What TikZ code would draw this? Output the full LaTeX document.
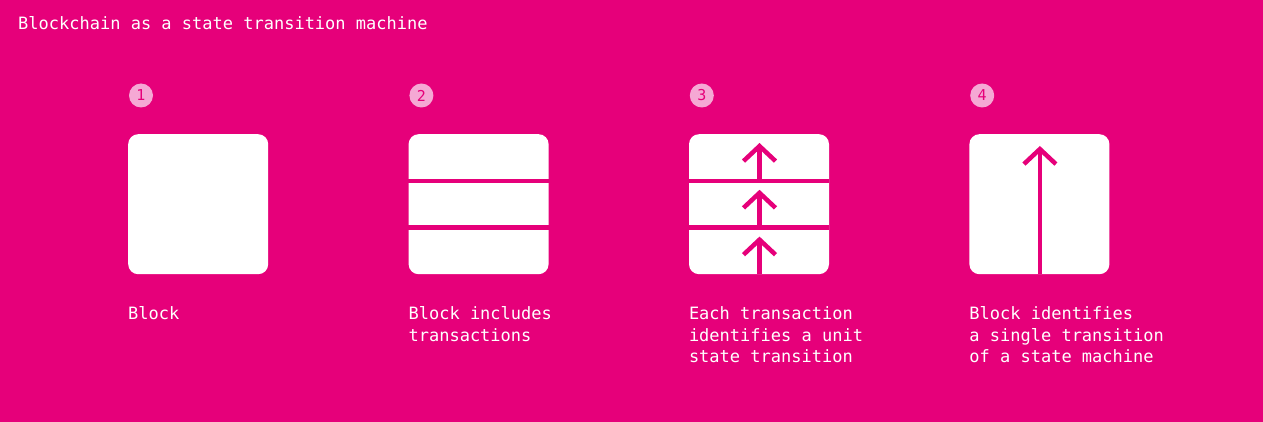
\documentclass[tikz,border=0pt]{standalone}
\usepackage{fontspec}
\setmonofont{DejaVu Sans Mono}
\usepackage{tikz}
\usetikzlibrary{arrows.meta,positioning,calc}
\definecolor{polkapink}{HTML}{E6007A}
\definecolor{softpink}{HTML}{F5A8D4}

\begin{document}
\begin{tikzpicture}[x=1pt,y=-1pt,
  blk/.style={fill=white, rounded corners=10pt, minimum width=140pt, minimum height=140pt, inner sep=0pt},
  stepnum/.style={circle, fill=softpink, text=polkapink, minimum size=24pt, inner sep=0pt, font=\ttfamily\fontsize{15}{15}\selectfont},
  captext/.style={anchor=north west, align=left, text=white, inner sep=0pt, font=\ttfamily\fontsize{17}{21.5}\selectfont},
  tx/.style={draw=polkapink, line width=4.5pt},
  uparrow/.style={tx, -{Straight Barb[length=15pt,width=32pt]}}]
\newcommand{\Gap}{140pt}; % space between blocks
\newcommand{\Head}{9}; % arrow tip below the top of its slot

% background
\fill[polkapink] (0,0) rectangle (1263,422);
\useasboundingbox (0,0) rectangle (1263,422);

\node[captext, anchor=base west] (title) at (18,29.3) {Blockchain as a state transition machine};

% blocks
\node[blk, anchor=north west] (box1) at (128,134) {};
\node[blk, right=\Gap of box1] (box2) {};
\node[blk, right=\Gap of box2] (box3) {};
\node[blk, right=\Gap of box3] (box4) {};

% step numbers
\foreach \i in {1,2,3,4}
  \node[stepnum] (num\i) at ([shift={(13,-38.5)}]box\i.north west) {\i};

% transaction slots
\coordinate (s2a) at ($(box2.north west)!1/3!(box2.south west)$);
\coordinate (s2b) at ($(box2.north west)!2/3!(box2.south west)$);
\draw[tx] (s2a) -- (s2a -| box2.east);
\draw[tx] (s2b) -- (s2b -| box2.east);

\coordinate (s3a) at ($(box3.north west)!1/3!(box3.south west)$);
\coordinate (s3b) at ($(box3.north west)!2/3!(box3.south west)$);
\draw[tx] (s3a) -- (s3a -| box3.east);
\draw[tx] (s3b) -- (s3b -| box3.east);

% unit transitions
\coordinate (m3) at ([shift={(0.5,0)}]box3.south);
\draw[uparrow] (m3) -- ([shift={(0,\Head)}]s3b -| m3);
\draw[uparrow] (s3b -| m3) -- ([shift={(0,\Head)}]s3a -| m3);
\draw[uparrow] (s3a -| m3) -- ([shift={(0,\Head)}]box3.north -| m3);

% single transition
\coordinate (m4) at ([shift={(0.5,0)}]box4.south);
\draw[uparrow] (m4) -- ([shift={(0,12)}]box4.north -| m4);

% captions
\node[captext] (cap1) at ([shift={(0,32)}]box1.south west) {Block};
\node[captext] (cap2) at ([shift={(0,32)}]box2.south west) {Block includes\\transactions};
\node[captext] (cap3) at ([shift={(0,32)}]box3.south west) {Each transaction\\identifies a unit\\state transition};
\node[captext] (cap4) at ([shift={(0,32)}]box4.south west) {Block identifies\\a single transition\\of a state machine};
\end{tikzpicture}
\end{document}
